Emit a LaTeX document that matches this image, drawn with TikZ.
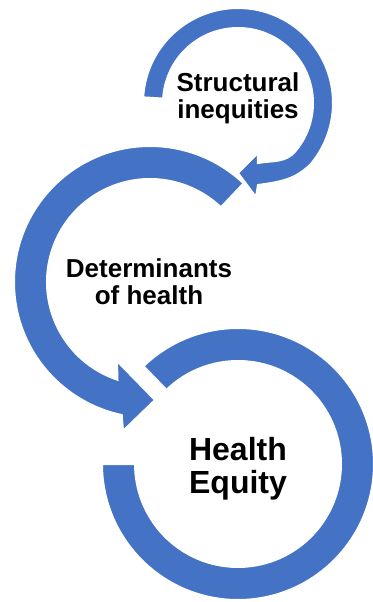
\documentclass[tikz,border=0pt]{standalone}
\usepackage{fontspec}
\setmainfont{Liberation Sans}
\definecolor{ringblue}{HTML}{4472C4}

\begin{document}
\begin{tikzpicture}[
    x=0.5pt, y=0.5pt,
    ring/.style={fill=ringblue, draw=white, line width=1pt, line join=miter},
    caption/.style={font=\fontsize{13}{13.4}\selectfont\bfseries, align=center, inner sep=0pt},
    bigcaption/.style={font=\fontsize{16}{16.6}\selectfont\bfseries, align=center, inner sep=0pt}
  ]

    \useasboundingbox (0,0) rectangle (373,602);

    % Bottom ring: open at the upper left, no arrow tip
    \begin{scope}[shift={(238,138)}]
      \filldraw[ring] (180:136) arc[start angle=180, end angle=494, radius=136]
        -- (494:103) arc[start angle=494, end angle=180, radius=103] -- cycle;
    \end{scope}

    % Middle ring: tail at the upper right, arrow into the bottom ring
    \begin{scope}[shift={(150,320)}]
      \filldraw[ring] (46.5:136) arc[start angle=46.5, end angle=258, radius=136]
        -- (-27,-149) -- (5,-118) -- (-33,-79)
        -- (251.6:103) arc[start angle=251.6, end angle=46.5, radius=103] -- cycle;
    \end{scope}

    % Top ring: tail on the left, arrow into the middle ring
    \begin{scope}[shift={(238,499)}]
      \filldraw[ring] (176.6:95) arc[start angle=176.6, end angle=-40, radius=95]
        to[out=-135, in=8] (20,-82) -- (18,-94) -- (0,-70) -- (20,-50) -- (20,-60)
        to[out=10, in=230] (-40:75) arc[start angle=-40, end angle=176.6, radius=75] -- cycle;
    \end{scope}

    % Labels
    \node[caption] (structural) at (238,503.5) {Structural\\inequities};
    \node[caption] (determinants) at (149,320.5) {Determinants\\of health};
    \node[bigcaption] (equity) at (238,133) {Health\\Equity};

\end{tikzpicture}
\end{document}
